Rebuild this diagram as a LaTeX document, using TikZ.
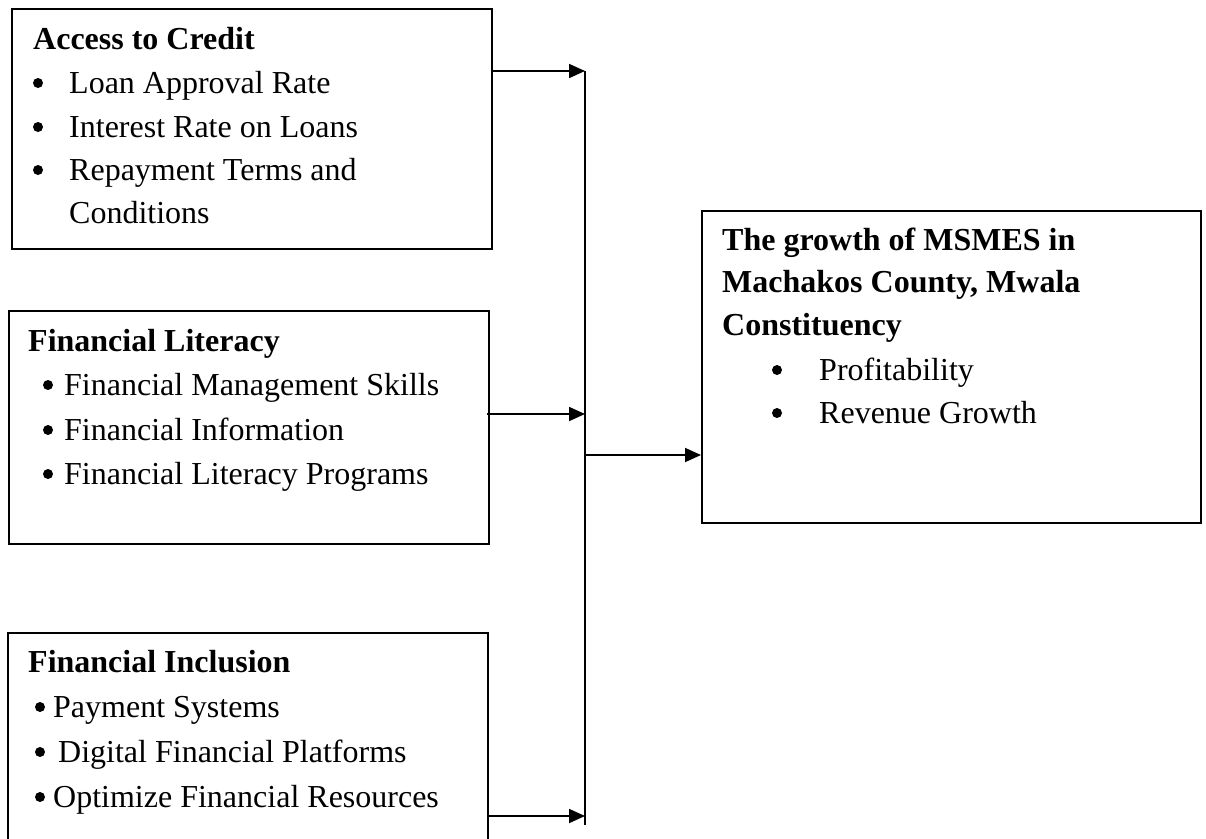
\documentclass[tikz,border=0pt]{standalone}
\usepackage{fontspec}
\setmainfont{Liberation Serif}
\usetikzlibrary{arrows.meta}

\tikzset{
  box/.style={draw, line width=1.8pt, rectangle, inner sep=0pt, anchor=north west},
  txt/.style={anchor=base west, inner sep=0pt, font=\fontsize{32}{44}\selectfont},
  head/.style={txt, font=\fontsize{32}{44}\selectfont\bfseries},
  dot/.style={circle, fill, inner sep=0pt, minimum size=10pt, yshift=10pt},
  link/.style={line width=1.8pt, -{Triangle[length=16pt,width=14pt]}},
  bar/.style={line width=1.8pt}
}

\begin{document}
\begin{tikzpicture}[x=1pt,y=-1pt]
  \useasboundingbox (0,0) rectangle (1206,838);
  \clip (0,0) rectangle (1206,838);

  % boxes
  \node[box, minimum width=480pt, minimum height=240pt] (credit) at (11,8) {};
  \node[box, minimum width=480pt, minimum height=233pt] (literacy) at (8,310) {};
  \node[box, minimum width=480pt, minimum height=240pt] (inclusion) at (7,632) {};
  \node[box, minimum width=499pt, minimum height=312pt] (growth) at (701,210) {};

  % Access to Credit
  \node[head] (c0) at (33,49) {Access to Credit};
  \node[dot] (cb1) at (38,93) {};
  \node[txt] (c1) at (69,93) {Loan Approval Rate};
  \node[dot] (cb2) at (38,137) {};
  \node[txt] (c2) at (69,137) {Interest Rate on Loans};
  \node[dot] (cb3) at (38,180) {};
  \node[txt] (c3) at (69,180) {Repayment Terms and};
  \node[txt] (c4) at (69,223) {Conditions};

  % Financial Literacy
  \node[head] (l0) at (28,351) {Financial Literacy};
  \node[dot] (lb1) at (48,395) {};
  \node[txt] (l1) at (64,395) {Financial Management Skills};
  \node[dot] (lb2) at (48,440) {};
  \node[txt] (l2) at (64,440) {Financial Information};
  \node[dot] (lb3) at (48,484) {};
  \node[txt] (l3) at (64,484) {Financial Literacy Programs};

  % Financial Inclusion
  \node[head] (i0) at (28,672) {Financial Inclusion};
  \node[dot] (ib1) at (40,717) {};
  \node[txt] (i1) at (53,717) {Payment Systems};
  \node[dot] (ib2) at (40,762) {};
  \node[txt] (i2) at (58,762) {Digital Financial Platforms};
  \node[dot] (ib3) at (40,807) {};
  \node[txt] (i3) at (53,807) {Optimize Financial Resources};

  % Growth of MSMEs
  \node[head] (g0) at (722,250) {The growth of MSMES in};
  \node[head] (g1) at (722,292) {Machakos County, Mwala};
  \node[head] (g2) at (722,335) {Constituency};
  \node[dot] (gb1) at (777,380) {};
  \node[txt] (g3) at (819,380) {Profitability};
  \node[dot] (gb2) at (777,423) {};
  \node[txt] (g4) at (819,423) {Revenue Growth};

  % collecting bar and its junctions
  \coordinate (jtop) at (585,71);
  \coordinate (jmid) at (585,414);
  \coordinate (jout) at (585,455);
  \coordinate (jlow) at (585,816);
  \coordinate (jend) at (585,825);
  \draw[bar] (jtop) -- (jend);

  \draw[link] (credit.east |- jtop) -- (jtop);
  \draw[link] ([xshift=-3pt]literacy.east |- jmid) -- (jmid);
  \draw[link] (inclusion.east |- jlow) -- (jlow);
  \draw[link] (jout) -- (growth.west |- jout);
\end{tikzpicture}
\end{document}
